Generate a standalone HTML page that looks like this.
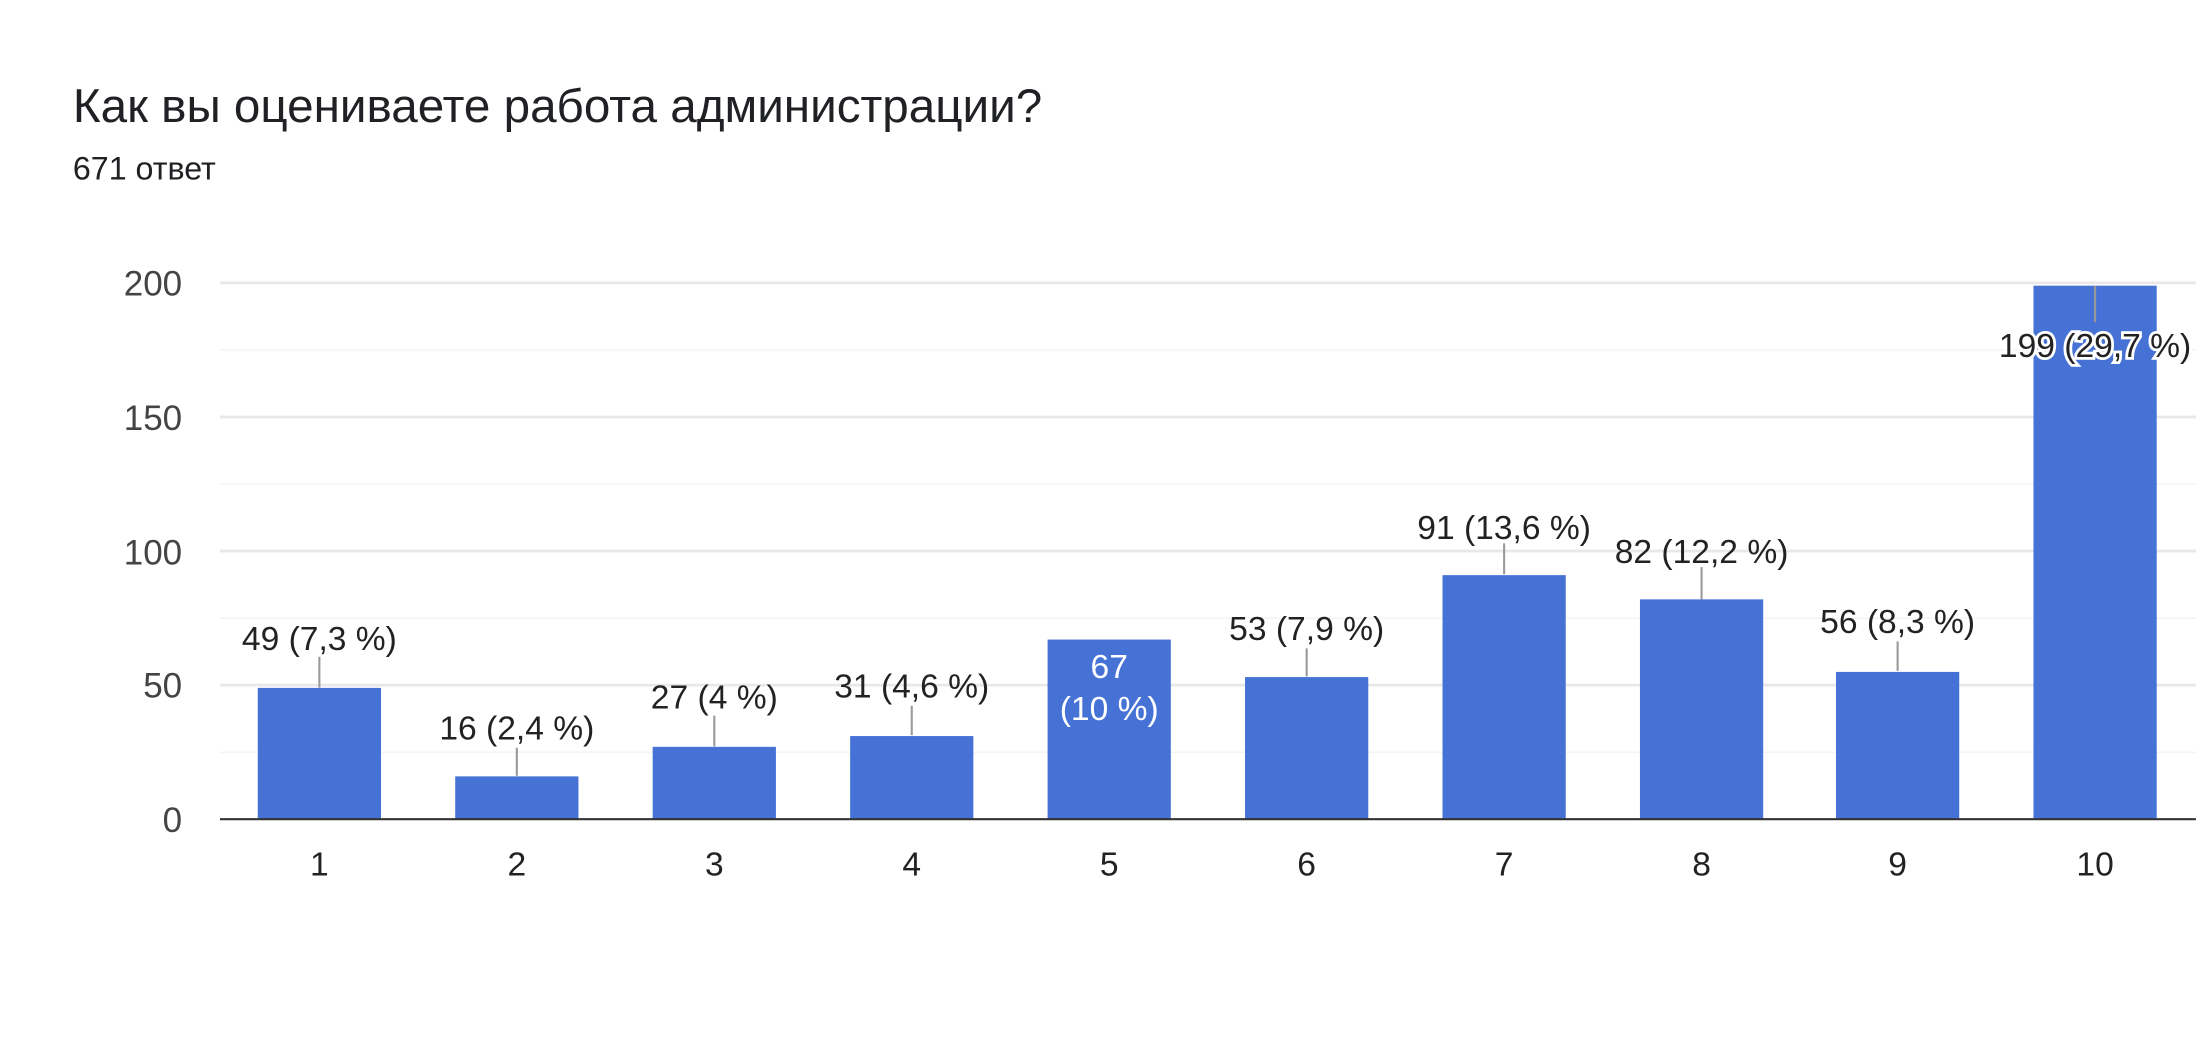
<!DOCTYPE html>
<html><head><meta charset="utf-8"><style>html,body{margin:0;padding:0;background:#fff;}svg{display:block}</style></head>
<body>
<svg width="2196" height="1044" viewBox="0 0 1568 745.5" xmlns="http://www.w3.org/2000/svg" font-family="'Liberation Sans', sans-serif">
<rect width="1568" height="745.5" fill="#fff"/>
<text x="52" y="87" font-size="34" fill="#202124">Как вы оцениваете работа администрации?</text>
<text x="52" y="128" font-size="23" fill="#202124">671 ответ</text>
<g stroke="#f3f3f3" stroke-width="1">
<line x1="157" x2="1568" y1="537.1" y2="537.1"/><line x1="157" x2="1568" y1="441.4" y2="441.4"/>
<line x1="157" x2="1568" y1="345.6" y2="345.6"/><line x1="157" x2="1568" y1="249.9" y2="249.9"/>
</g>
<g stroke="#e8e8e8" stroke-width="2">
<line x1="157" x2="1568" y1="489.25" y2="489.25"/><line x1="157" x2="1568" y1="393.5" y2="393.5"/>
<line x1="157" x2="1568" y1="297.75" y2="297.75"/><line x1="157" x2="1568" y1="202" y2="202"/>
</g>
<g font-size="25" fill="#444" text-anchor="end">
<text x="130" y="594">0</text><text x="130" y="498">50</text><text x="130" y="403">100</text><text x="130" y="307">150</text><text x="130" y="211">200</text>
</g>
<g fill="#4672d6">
<rect x="184" y="491.2" width="88" height="93.8"/>
<rect x="325" y="554.4" width="88" height="30.6"/>
<rect x="466" y="533.3" width="88" height="51.7"/>
<rect x="607" y="525.6" width="88" height="59.4"/>
<rect x="748" y="456.7" width="88" height="128.3"/>
<rect x="889" y="483.5" width="88" height="101.5"/>
<rect x="1030" y="410.7" width="88" height="174.3"/>
<rect x="1171" y="428" width="88" height="157"/>
<rect x="1311" y="479.8" width="88" height="105.2"/>
<rect x="1452" y="204" width="88" height="381"/>
</g>
<line x1="157" x2="1568" y1="585" y2="585" stroke="#333" stroke-width="1.5"/>
<g stroke="#999" stroke-width="1.5">
<line x1="228" x2="228" y1="491" y2="469"/><line x1="369" x2="369" y1="554" y2="534"/>
<line x1="510" x2="510" y1="533" y2="511"/><line x1="651" x2="651" y1="525" y2="504"/>
<line x1="933" x2="933" y1="483" y2="463"/><line x1="1074" x2="1074" y1="410" y2="388"/>
<line x1="1215" x2="1215" y1="428" y2="405"/><line x1="1355" x2="1355" y1="479" y2="458"/>
<line x1="1496" x2="1496" y1="204" y2="230"/>
</g>
<g font-size="24" fill="#222" text-anchor="middle">
<text x="228" y="464">49 (7,3 %)</text>
<text x="369" y="528">16 (2,4 %)</text>
<text x="510" y="506">27 (4 %)</text>
<text x="651" y="498">31 (4,6 %)</text>
<text x="933" y="457">53 (7,9 %)</text>
<text x="1074" y="385">91 (13,6 %)</text>
<text x="1215" y="402">82 (12,2 %)</text>
<text x="1355" y="452">56 (8,3 %)</text>
<text x="1496" y="255" stroke="#fff" stroke-width="4" paint-order="stroke">199 (29,7 %)</text>
</g>
<g font-size="24" fill="#fff" text-anchor="middle">
<text x="792" y="484">67</text><text x="792" y="514">(10 %)</text>
</g>
<g font-size="24" fill="#222" text-anchor="middle">
<text x="228" y="625">1</text><text x="369" y="625">2</text><text x="510" y="625">3</text><text x="651" y="625">4</text><text x="792" y="625">5</text>
<text x="933" y="625">6</text><text x="1074" y="625">7</text><text x="1215" y="625">8</text><text x="1355" y="625">9</text><text x="1496" y="625">10</text>
</g>
</svg>
</body></html>
